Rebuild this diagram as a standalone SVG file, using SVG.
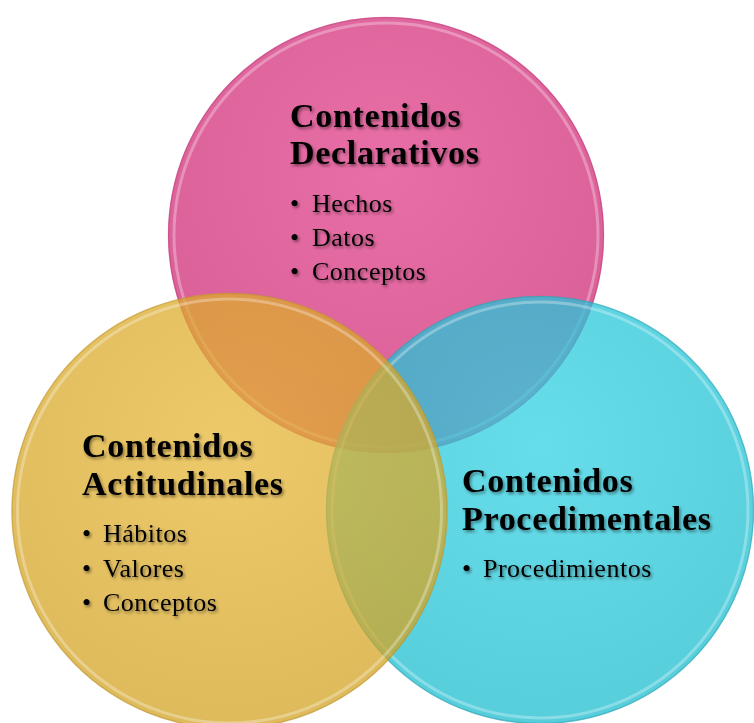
<svg xmlns="http://www.w3.org/2000/svg" width="754" height="723" viewBox="0 0 754 723">
<defs>
<filter id="ts" x="-10%" y="-30%" width="120%" height="160%">
<feDropShadow dx="1.5" dy="2" stdDeviation="1.6" flood-color="#000" flood-opacity="0.45"/>
</filter>
<radialGradient id="gloss" cx="50%" cy="35%" r="65%">
<stop offset="0" stop-color="#fff" stop-opacity="0.06"/>
<stop offset="1" stop-color="#000" stop-opacity="0.06"/>
</radialGradient>
</defs>
<style>
.disc{opacity:0.72}
.rim{fill:none;stroke:#fff;stroke-opacity:0.3;stroke-width:3}
.edge{fill:none;stroke-opacity:0.35;stroke-width:1.5}
.title{font-family:"Liberation Serif","Times New Roman",serif;font-weight:bold;font-size:34px;letter-spacing:0.7px;fill:#000;filter:url(#ts)}
.item{font-family:"Liberation Serif","Times New Roman",serif;font-size:26px;letter-spacing:0.5px;fill:#000;filter:url(#ts)}
</style>
<rect width="754" height="723" fill="#fff"/>
<g id="declarativos">
<circle class="disc" cx="386" cy="235" r="218" fill="#DE2A7D"/>
<circle cx="386" cy="235" r="218" fill="url(#gloss)"/>
<circle class="rim" cx="386" cy="235" r="212"/>
<circle class="edge" cx="386" cy="235" r="217.5" stroke="#b0306a"/>
<text class="title" x="290" y="127">Contenidos</text>
<text class="title" x="290" y="164">Declarativos</text>
<text class="item" x="290" y="212">•</text><text class="item" x="312" y="212">Hechos</text>
<text class="item" x="290" y="246">•</text><text class="item" x="312" y="246">Datos</text>
<text class="item" x="290" y="280">•</text><text class="item" x="312" y="280">Conceptos</text>
</g>
<g id="procedimentales">
<circle class="disc" cx="540" cy="510" r="214" fill="#1FCDE1"/>
<circle cx="540" cy="510" r="214" fill="url(#gloss)"/>
<circle class="rim" cx="540" cy="510" r="208"/>
<circle class="edge" cx="540" cy="510" r="213.5" stroke="#2a8fa0"/>
<text class="title" x="462" y="492">Contenidos</text>
<text class="title" x="462" y="530">Procedimentales</text>
<text class="item" x="462" y="577">•</text><text class="item" x="483" y="577">Procedimientos</text>
</g>
<g id="actitudinales">
<circle class="disc" cx="229.5" cy="511" r="218" fill="#E4B024"/>
<circle cx="229.5" cy="511" r="218" fill="url(#gloss)"/>
<circle class="rim" cx="229.5" cy="511" r="212"/>
<circle class="edge" cx="229.5" cy="511" r="217.5" stroke="#b08a30"/>
<text class="title" x="82" y="457">Contenidos</text>
<text class="title" x="82" y="495">Actitudinales</text>
<text class="item" x="82" y="542">•</text><text class="item" x="103" y="542">Hábitos</text>
<text class="item" x="82" y="577">•</text><text class="item" x="103" y="577">Valores</text>
<text class="item" x="82" y="611">•</text><text class="item" x="103" y="611">Conceptos</text>
</g>
</svg>
